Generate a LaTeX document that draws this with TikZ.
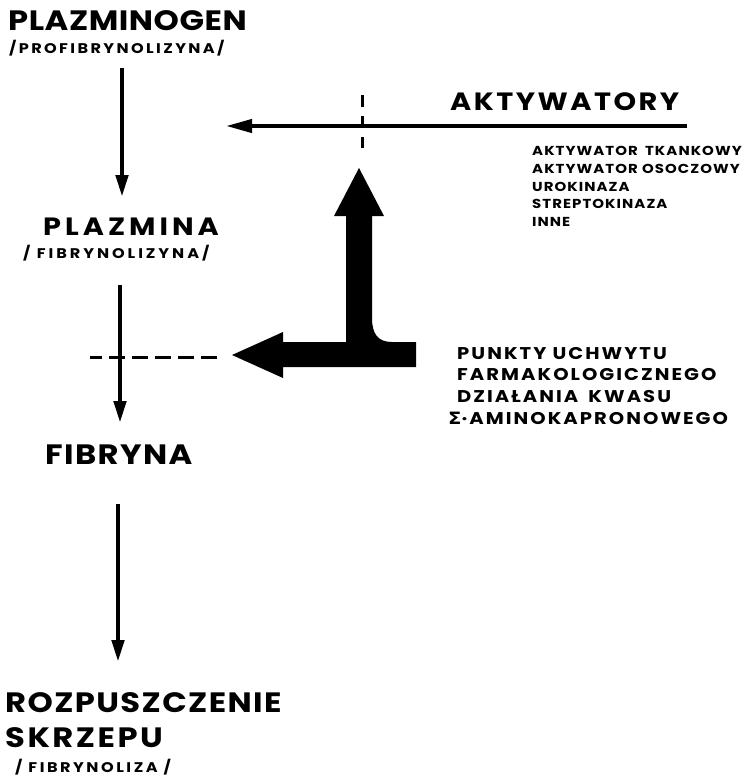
\documentclass[tikz,border=0pt]{standalone}
\usepackage{fontspec}
\setmainfont{Poppins}[FakeStretch=1.15]
\newfontfamily\grk{DejaVu Sans}[FakeStretch=1.15]
\usetikzlibrary{arrows.meta}
\newcommand\lsp[1]{\addfontfeatures{LetterSpace=#1}}
\begin{document}
\begin{tikzpicture}[x=1pt,y=-1pt,
  txt/.style={anchor=west,inner sep=0pt},
  listtxt/.style={anchor=north west,inner sep=0pt,align=left,font=\fontsize{13}{17.8}\selectfont\bfseries\lsp{8}},
  pktxt/.style={anchor=north west,inner sep=0pt,align=left,font=\fontsize{17}{21.7}\selectfont\bfseries\lsp{12}},
  conn/.style={line width=4.5pt,-{Triangle[length=22pt,width=12pt]}},
  connh/.style={line width=4pt,-{Triangle[length=26pt,width=13pt]}},
  dashv/.style={line width=3pt,dash pattern=on 12pt off 9pt},
  dashh/.style={line width=3pt,dash pattern=on 16pt off 7pt,dash phase=4pt}
]
\useasboundingbox (0,0) rectangle (750,777);
% texts
\node[txt,font=\fontsize{28}{30}\selectfont\bfseries\lsp{2}] (plg) at (8,21) {PLAZMINOGEN};
\node[txt,font=\fontsize{14}{15}\selectfont\bfseries\lsp{17}] (plgs) at (9,48) {/PROFIBRYNOLIZYNA/};
\node[txt,font=\fontsize{25}{28}\selectfont\bfseries\lsp{16}] (plm) at (43,227) {PLAZMINA};
\node[txt,font=\fontsize{14}{15}\selectfont\bfseries\lsp{21}] (plms) at (23,253) {/ FIBRYNOLIZYNA/};
\node[txt,font=\fontsize{28}{30}\selectfont\bfseries\lsp{5}] (fib) at (45,455) {FIBRYNA};
\node[txt,font=\fontsize{28}{30}\selectfont\bfseries\lsp{5}] (roz) at (5,703) {ROZPUSZCZENIE};
\node[txt,font=\fontsize{28}{30}\selectfont\bfseries\lsp{9}] (skr) at (5,738) {SKRZEPU};
\node[txt,font=\fontsize{14}{15}\selectfont\bfseries\lsp{18}] (fibl) at (15,767) {/ FIBRYNOLIZA /};
\node[txt,font=\fontsize{25}{28}\selectfont\bfseries\lsp{10}] (akt) at (450,102) {AKTYWATORY};
\node[listtxt] (lst) at (532,146) {AKTYWATOR\hspace{3pt} TKANKOWY\\AKTYWATOR OSOCZOWY\\UROKINAZA\\STREPTOKINAZA\\INNE};
\node[pktxt] (pk) at (448,347) {\hspace*{9pt}PUNKTY UCHWYTU\\\hspace*{9pt}FARMAKOLOGICZNEGO\\\hspace*{9pt}DZIAŁANIA\hspace{4pt} KWASU\\{\grk Σ}·AMINOKAPRONOWEGO};
% connector end points
\coordinate (a1s) at (122,68);  \coordinate (a1e) at (122,197);
\coordinate (a2s) at (120,285); \coordinate (a2e) at (120,423);
\coordinate (a3s) at (118,504); \coordinate (a3e) at (118,662);
\coordinate (hs) at (687,126);  \coordinate (he) at (226,126);
\coordinate (dvs) at (362,95);  \coordinate (dve) at (362,148);
\coordinate (dhs) at (90,357);  \coordinate (dhe) at (222,357);
\draw[conn] (a1s) -- (a1e);
\draw[conn] (a2s) -- (a2e);
\draw[conn] (a3s) -- (a3e);
\draw[connh] (hs) -- (he);
\draw[dashv] (dvs) -- (dve);
\draw[dashh] (dhs) -- (dhe);
% big T-shaped arrow
\fill (359,168) -- (384,216) -- (372,216) -- (372,318)
  .. controls (372,334) and (378,342) .. (392,342)
  -- (416,342) -- (416,367) -- (283,367) -- (283,378) -- (232,355)
  -- (283,332) -- (283,342) -- (346,342) -- (346,216) -- (334,216) -- cycle;
\end{tikzpicture}
\end{document}
